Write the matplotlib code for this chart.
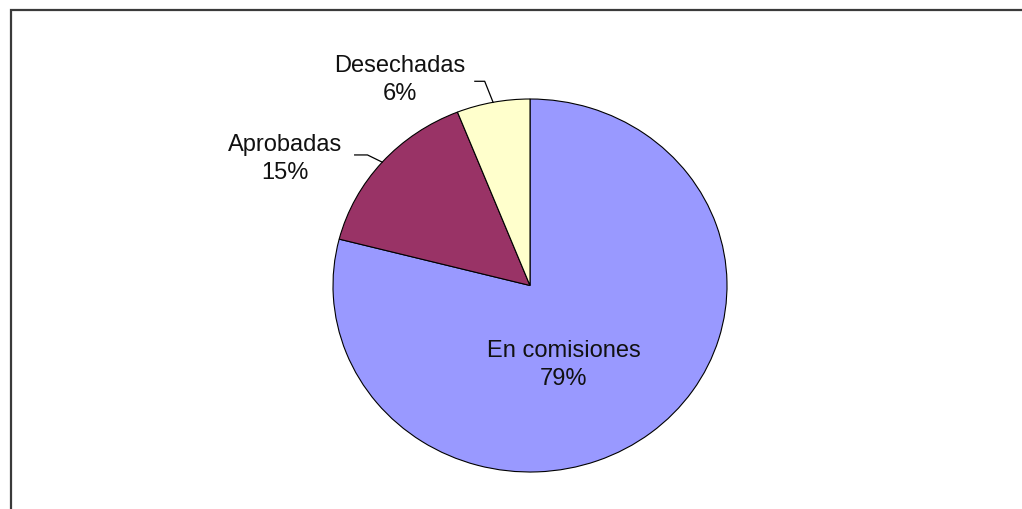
import matplotlib
matplotlib.use("Agg")
import matplotlib.pyplot as plt
import numpy as np
from matplotlib.lines import Line2D

# data
labels = ["En comisiones", "Aprobadas", "Desechadas"]
shares = [79, 15, 6]
colors = ["#9999FF", "#993366", "#FFFFCC"]

# where each label block sits, in pie units (radius 1), and leader elbows
label_pos = {
    "En comisiones": (0.17, -0.42),
    "Aprobadas": (-1.245, 0.685),
    "Desechadas": (-0.66, 1.105),
}
leader = {
    # elbow point, end point (pie units)
    "Aprobadas": ((-0.825, 0.70), (-0.89, 0.70)),
    "Desechadas": ((-0.23, 1.095), (-0.28, 1.095)),
}

plt.rcParams["font.family"] = ["Liberation Sans", "DejaVu Sans"]

W, H = 1022, 510
fig = plt.figure(figsize=(W / 100, H / 100), dpi=100)

# outer chart border: only top and left edges are inside the image
fx, fy = 10.5 / W, 1 - 10.5 / H
fig.add_artist(Line2D([fx, fx, 1.01], [-0.01, fy, fy], transform=fig.transFigure,
                      lw=1.6, color="#3a3a3a", solid_joinstyle="miter"))

# pie bbox in pixels: x 333..727, y 100..473
ax = fig.add_axes([333 / W, (H - 473) / H, 394 / W, 373 / H])
wedges, _ = ax.pie(shares, colors=colors, startangle=90, counterclock=False,
                   radius=1, wedgeprops=dict(edgecolor="black", linewidth=0.8))
ax.set_aspect("auto")
ax.set_xlim(-1, 1)
ax.set_ylim(-1, 1)
ax.axis("off")

total = sum(shares)
start = 90.0
for lab, val in zip(labels, shares):
    ang = np.deg2rad(start - val / total * 360 / 2)
    start -= val / total * 360
    pct = f"{round(val / total * 100)}%"
    x, y = label_pos[lab]
    ax.text(x, y, f"{lab}\n{pct}", ha="center", va="center", fontsize=17,
            linespacing=1.35, color="#111111", clip_on=False)
    if lab in leader:
        rim = (np.cos(ang), np.sin(ang))
        (ex, ey), (tx, ty) = leader[lab]
        ax.plot([rim[0], ex, tx], [rim[1], ey, ty], color="black", lw=0.9,
                clip_on=False)

fig.savefig("out.png", dpi=100)
